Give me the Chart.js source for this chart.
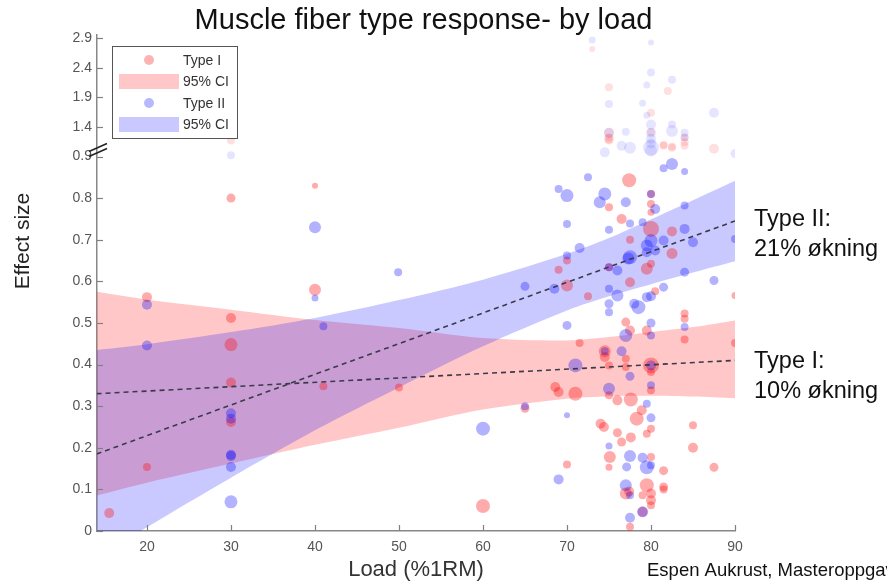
<!DOCTYPE html>
<html><head><meta charset="utf-8">
<script src="https://cdn.jsdelivr.net/npm/chart.js@4"></script>
<style>html,body{margin:0;padding:0;background:#fff;overflow:hidden}#wrap{width:887px;height:583px;position:relative}</style>
</head><body><div id="wrap"><canvas id="c" width="887" height="583"></canvas></div>
<script>
// ---------------- DATA ----------------
const xTicks = [20, 30, 40, 50, 60, 70, 80, 90];
const yTickLabels = [0, 0.1, 0.2, 0.3, 0.4, 0.5, 0.6, 0.7, 0.8, 0.9, 1.4, 1.9, 2.4, 2.9];
const axisBreakAt = 0.9;

// studies: [load %1RM, effect size, study weight]
const typeI_studies = [
  [30,1.17,4],[30,0.80,4.5],[40,0.83,3],[40,0.58,6],[20,0.562,5],[30,0.512,5],[30,0.448,6.5],
  [30,0.357,5],[41,0.348,4],[30,0.262,5],[20,0.154,4],[15.5,0.043,5],[50,0.345,4],[60,0.06,7],[65,0.295,4.5],
  [73,2.72,3],[75,2.07,4],[82,2.01,4],[80,1.64,4],[75,1.30,5],[75,1.20,5],[80,1.31,4],[84,1.22,4],
  [84,1.08,4],[87.5,1.03,5],[81.5,1.08,4],[82.5,1.05,4],[81.5,1.10,4],[82.5,1.07,4],[84,1.14,4],[75,1.22,4],[75,1.17,4],
  [77.4,0.843,7],[80,0.81,4],[80,0.786,4],[75,0.778,4],[80,0.766,3.5],[76.5,0.75,5],[80,0.726,8],[82.5,0.72,5],
  [77.5,0.70,4],[82.5,0.667,5.5],[70,0.65,4],[69,0.628,4],[75,0.634,4],[79.5,0.63,6],[80,0.642,4],[70,0.59,6],
  [72.5,0.564,4],[80.5,0.576,4],[77.5,0.598,5],[90,0.566,3.5],[84,0.523,4],[84,0.51,4],[84,0.46,4],[90,0.452,4],
  [77,0.502,4.5],[77.5,0.482,5],[79.5,0.482,5],[71.5,0.452,4],[74.5,0.432,6],[74.5,0.418,5],[77,0.414,4],
  [75,0.398,4],[77,0.394,4],[80,0.398,8],[80,0.382,4],[68.6,0.346,5],[69,0.334,5],[71,0.33,7],[75,0.326,4],
  [76,0.314,5],[77.6,0.316,7],[80,0.338,4],[78.9,0.29,5],[78.3,0.27,7],[80,0.246,4],[79.5,0.234,4],[74,0.258,5],
  [74.4,0.25,5],[85,0.254,4],[85,0.20,5],[76,0.236,4.5],[77.6,0.225,5],[76.5,0.214,4.5],[75.1,0.178,6],[80,0.178,4],
  [75,0.153,3.5],[70,0.16,4],[81.5,0.145,4.5],[87.5,0.153,4.5],[79.5,0.11,7],[81.5,0.106,4.5],[81.5,0.10,4],
  [77,0.09,6],[80,0.09,5],[80,0.074,5],[80,0.062,4],[79,0.086,4],[79,0.046,5],[77.5,0.01,4],[77.4,0.095,5]
];
const typeII_studies = [
  [30,0.92,4],[40,0.73,6],[40,0.56,3.5],[20,0.544,5],[41,0.492,4],[20,0.446,5],[30,0.283,5],[30,0.27,5],
  [30,0.183,5],[30,0.18,5],[30,0.154,5],[30,0.07,6.5],[49.9,0.622,4],[60,0.246,7],[65,0.588,4.5],[65,0.30,4],
  [73,2.87,3.5],[80,2.83,3],[80,2.32,4],[79.5,2.11,3.5],[82.5,2.20,4],[75,1.79,4],[79,1.80,3.5],[79.5,1.60,3.5],
  [87.5,1.64,5],[77,1.32,4],[75,1.30,5],[80,1.44,5],[80,1.30,5],[80,1.20,5],[82.5,1.44,4],[82.5,1.33,6],
  [84,1.30,4],[84,1.22,4],[90,0.95,4.5],[80,1.05,8],[80,1.00,6],[77.5,1.05,6],[76.5,1.08,5],[74.5,0.97,5],[80,1.12,5],
  [82.5,0.882,6],[81.5,0.872,4],[84,0.864,3.5],[72.5,0.85,4],[69,0.822,4],[70,0.806,6.5],[74.5,0.81,6.5],
  [73.9,0.79,6],[77,0.79,5],[80,0.81,4],[80.5,0.774,5],[84,0.782,4],[70,0.738,4],[77.5,0.739,4],[79,0.742,4],
  [75,0.724,4],[84,0.726,5],[80,0.698,6.5],[79.5,0.686,6],[81.5,0.698,5],[85,0.694,5],[90,0.702,4],[71.5,0.68,5],
  [70,0.662,4],[77.5,0.658,7],[77.3,0.655,6],[79.5,0.67,5],[80.5,0.674,5],[75,0.634,4],[76,0.626,5],[84,0.622,4.5],
  [68.5,0.582,5],[75,0.582,4],[76,0.566,6],[75,0.546,4.5],[75,0.526,4],[78,0.546,5],[78.5,0.538,7],[79.5,0.562,5],
  [80,0.564,5],[81.5,0.586,4.5],[87.5,0.602,4.5],[84,0.49,4],[70,0.494,4.5],[77,0.47,6.5],[80,0.50,4.5],[80,0.47,4],
  [74.5,0.432,4],[76.5,0.432,5],[71,0.398,7],[80,0.398,5],[77.5,0.372,4.5],[80,0.35,4],[75,0.342,6],[70,0.278,3],
  [79.5,0.306,4],[80,0.272,4.5],[75,0.204,3.5],[77.5,0.18,6],[79,0.176,5],[77.1,0.154,4.5],[79.5,0.153,7],
  [80,0.158,4],[69,0.124,5],[77,0.11,6],[77.5,0.086,4],[79,0.046,5.5],[77.5,0.032,5]
];

const ciLoad = [14, 20, 30, 40, 50, 60, 70, 75, 80, 85, 90];
const typeI_ciUpper  = [0.575, 0.556, 0.532, 0.507, 0.488, 0.464, 0.458, 0.466, 0.478, 0.490, 0.506];
const typeI_ciLower  = [0.085, 0.116, 0.162, 0.207, 0.248, 0.292, 0.318, 0.324, 0.325, 0.323, 0.319];
const typeII_ciUpper = [0.435, 0.449, 0.478, 0.512, 0.555, 0.604, 0.666, 0.704, 0.749, 0.795, 0.842];
const typeII_ciLower = [-0.065, 0.009, 0.128, 0.242, 0.345, 0.444, 0.530, 0.564, 0.593, 0.621, 0.648];

const fitLoad = [14, 90];
const typeI_fit = [0.330, 0.410];
const typeII_fit = [0.185, 0.745];

// ---------------- HELPERS ----------------
const UPPER_K = 0.142;          // compression of the axis above the break
const toAxis = v => v <= axisBreakAt ? v : axisBreakAt + (v - axisBreakAt) * UPPER_K;
const FONT = "'Liberation Sans', Arial, Helvetica, sans-serif";
Chart.defaults.font.family = FONT;

const bubbles = list => list.map(([x, y, w]) => ({x, y: toAxis(y), r: w, orig: y}));
const band = vals => ciLoad.map((x, i) => ({x, y: toAxis(vals[i])}));
const fit = vals => fitLoad.map((x, i) => ({x, y: toAxis(vals[i])}));

const RED = 'rgba(255,0,0,0.33)', RED_F = 'rgba(255,0,0,0.12)';
const BLUE = 'rgba(0,0,255,0.30)', BLUE_F = 'rgba(0,0,255,0.10)';
const RED_BAND = 'rgba(255,0,0,0.22)', BLUE_BAND = 'rgba(0,0,255,0.21)';

const lineDS = (label, data, extra) => Object.assign({
  type: 'line', label, data, pointRadius: 0, borderWidth: 0, borderColor: 'rgba(0,0,0,0)', tension: 0.3, fill: false
}, extra);

const datasets = [
  lineDS('Type II fit', fit(typeII_fit), {borderWidth: 1.6, borderColor: '#3a3a4a', borderDash: [5, 4], tension: 0}),
  lineDS('Type I fit', fit(typeI_fit), {borderWidth: 1.6, borderColor: '#3a3a4a', borderDash: [5, 4], tension: 0}),
  {type: 'bubble', label: 'Type II', data: bubbles(typeII_studies), borderWidth: 0,
   backgroundColor: c => (c.raw && c.raw.orig > axisBreakAt) ? BLUE_F : BLUE},
  {type: 'bubble', label: 'Type I', data: bubbles(typeI_studies), borderWidth: 0,
   backgroundColor: c => (c.raw && c.raw.orig > axisBreakAt) ? RED_F : RED},
  lineDS('Type II CI upper', band(typeII_ciUpper), {fill: '+1', backgroundColor: BLUE_BAND}),
  lineDS('Type II CI lower', band(typeII_ciLower)),
  lineDS('Type I CI upper', band(typeI_ciUpper), {fill: '+1', backgroundColor: RED_BAND}),
  lineDS('Type I CI lower', band(typeI_ciLower)),
];

// ---------------- DECORATION PLUGIN ----------------
const decor = {
  id: 'decor',
  afterDraw(chart) {
    const {ctx, chartArea: a, scales: {x, y}} = chart;
    ctx.save();
    const seg = (x1, y1, x2, y2) => { ctx.beginPath(); ctx.moveTo(x1, y1); ctx.lineTo(x2, y2); ctx.stroke(); };
    // inward tick marks
    ctx.strokeStyle = '#808080'; ctx.lineWidth = 1.2;
    xTicks.forEach(v => { const p = Math.round(x.getPixelForValue(v)) + 0.5; seg(p, a.bottom, p, a.bottom - 6); });
    yTickLabels.forEach(v => { const p = Math.round(y.getPixelForValue(toAxis(v))) + 0.5; seg(a.left, p, a.left + 6, p); });
    // axis break mark
    const by = y.getPixelForValue(axisBreakAt) - 10;
    ctx.strokeStyle = '#222'; ctx.lineWidth = 1.6;
    seg(a.left - 8, by + 5, a.left + 10, by - 3);
    seg(a.left - 8, by + 10, a.left + 10, by + 2);

    // legend box
    ctx.fillStyle = '#fff'; ctx.fillRect(112, 46, 125, 92);
    ctx.strokeStyle = '#555'; ctx.lineWidth = 1; ctx.strokeRect(112.5, 46.5, 125, 92);
    ctx.fillStyle = 'rgba(255,0,0,0.30)'; ctx.beginPath(); ctx.arc(149, 60, 5, 0, Math.PI * 2); ctx.fill();
    ctx.fillStyle = RED_BAND; ctx.fillRect(119, 74, 60, 15);
    ctx.fillStyle = 'rgba(0,0,255,0.28)'; ctx.beginPath(); ctx.arc(149, 103, 5, 0, Math.PI * 2); ctx.fill();
    ctx.fillStyle = BLUE_BAND; ctx.fillRect(119, 117, 60, 15);
    ctx.fillStyle = '#333'; ctx.font = '14px ' + FONT; ctx.textBaseline = 'middle'; ctx.textAlign = 'left';
    ctx.fillText('Type I', 183, 61);
    ctx.fillText('95% CI', 183, 82);
    ctx.fillText('Type II', 183, 104);
    ctx.fillText('95% CI', 183, 125);

    // y axis title
    ctx.save();
    ctx.translate(23, 241); ctx.rotate(-Math.PI / 2);
    ctx.textAlign = 'center'; ctx.textBaseline = 'middle'; ctx.fillStyle = '#222';
    ctx.font = '21px ' + FONT; ctx.fillText('Effect size', 0, 0);
    ctx.restore();

    // right-hand annotations
    ctx.fillStyle = '#111'; ctx.textAlign = 'left'; ctx.textBaseline = 'alphabetic';
    ctx.font = '23.5px ' + FONT;
    ctx.fillText('Type II:', 754, 226);
    ctx.fillText('21% økning', 754, 256);
    ctx.fillText('Type I:', 754, 368);
    ctx.fillText('10% økning', 754, 398);
    ctx.font = '18.5px ' + FONT;
    ctx.fillText('Espen Aukrust, Masteroppgave', 647, 576);
    ctx.restore();
  }
};

// ---------------- CHART ----------------
new Chart(document.getElementById('c'), {
  type: 'bubble',
  data: {datasets},
  options: {
    responsive: false, animation: false, devicePixelRatio: 1, events: [],
    layout: {padding: {left: 0, right: 40, top: 0, bottom: 0}},
    plugins: {
      legend: {display: false}, tooltip: {enabled: false},
      title: {display: true, text: 'Muscle fiber type response- by load', color: '#111',
              font: {size: 29, weight: 'normal', lineHeight: 1.0}, padding: {top: 6, bottom: 0}}
    },
    scales: {
      x: {
        type: 'linear', min: 14.05, max: 90,
        afterBuildTicks: s => { s.ticks = xTicks.map(v => ({value: v})); },
        afterFit: s => { s.height = 52; },
        grid: {display: false, drawTicks: false},
        border: {display: true, color: '#888', width: 1.5},
        ticks: {color: '#555', font: {size: 14}, padding: 8},
        title: {display: true, text: 'Load (%1RM)', color: '#333', font: {size: 22}, padding: {top: 0, bottom: 0}}
      },
      y: {
        type: 'linear', min: 0, max: 1.192,
        afterBuildTicks: s => { s.ticks = yTickLabels.map(v => ({value: toAxis(v)})); },
        afterFit: s => { s.width = 97; },
        grid: {display: false, drawTicks: false},
        border: {display: true, color: '#888', width: 1.5},
        ticks: {color: '#555', font: {size: 14}, padding: 5,
                callback: (v, i) => String(yTickLabels[i])}
      },
      yR: {
        type: 'linear', position: 'right', display: true,
        grid: {display: false, drawTicks: false}, border: {display: false}, ticks: {display: false},
        afterFit: s => { s.width = 112; }
      }
    }
  },
  plugins: [decor]
});
</script></body></html>
